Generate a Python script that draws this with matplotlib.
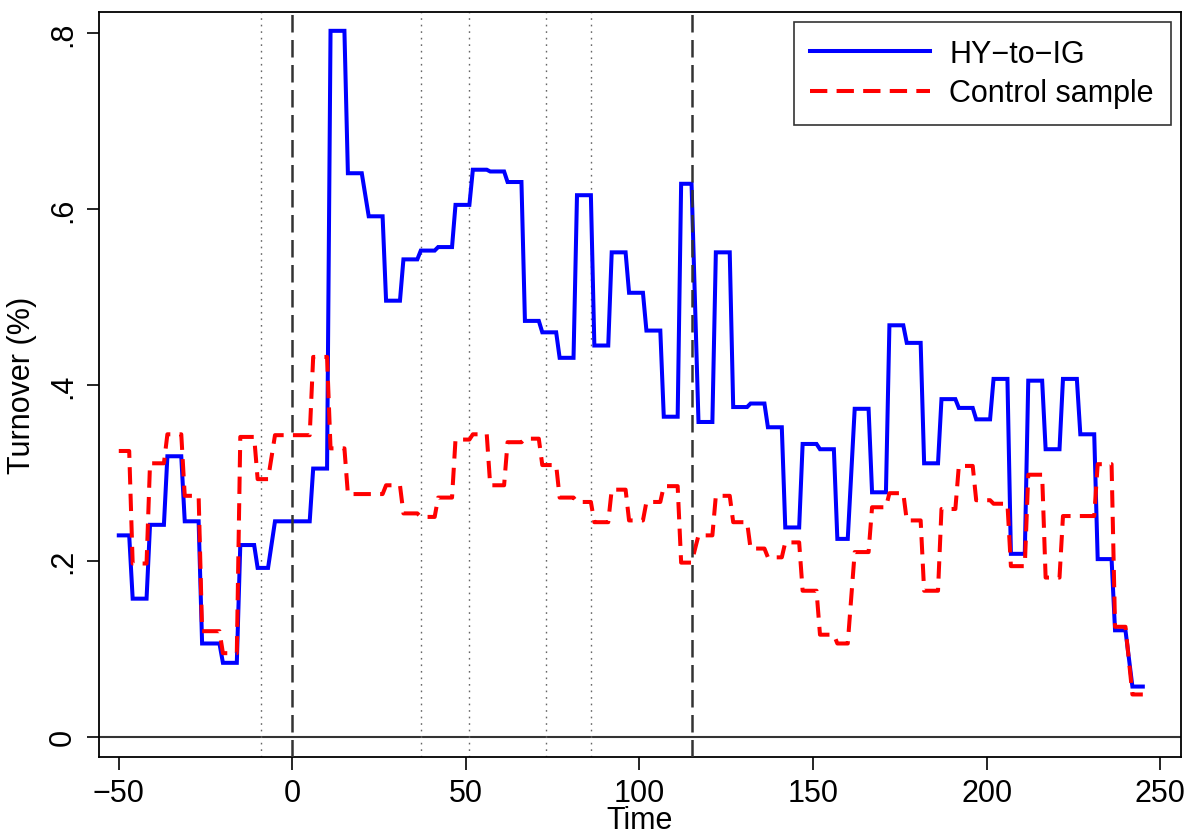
import matplotlib
matplotlib.use("Agg")
import matplotlib.pyplot as plt

# HY-to-IG: flat segments (first day, last day, turnover %)
hy_start = [-50, -46, -41, -36, -31, -26, -20, -15, -10, -5, 6, 11, 16, 22, 27, 32, 37, 42, 47, 52,
            57, 62, 67, 72, 77, 82, 87, 92, 97, 102, 107, 112, 117, 122, 127, 132, 137, 142, 147, 152,
            157, 162, 167, 172, 177, 182, 187, 192, 197, 202, 207, 212, 217, 222, 227, 232, 237, 242]
hy_end = [-47, -42, -37, -32, -27, -21, -16, -11, -7, 5, 10, 15, 20, 26, 31, 36, 41, 46, 51, 56,
          61, 66, 71, 76, 81, 86, 91, 96, 101, 106, 111, 115, 121, 126, 131, 136, 141, 146, 151, 156,
          160, 166, 171, 176, 181, 186, 191, 196, 201, 206, 211, 216, 221, 226, 231, 236, 240, 245]
hy_level = [0.229, 0.157, 0.241, 0.319, 0.245, 0.106, 0.084, 0.218, 0.192, 0.245, 0.305, 0.803,
            0.641, 0.592, 0.496, 0.543, 0.553, 0.557, 0.605, 0.645, 0.643, 0.631, 0.473, 0.460,
            0.431, 0.616, 0.445, 0.551, 0.505, 0.462, 0.364, 0.629, 0.358, 0.551, 0.375, 0.379,
            0.352, 0.238, 0.333, 0.327, 0.225, 0.373, 0.278, 0.468, 0.448, 0.311, 0.384, 0.374,
            0.361, 0.407, 0.208, 0.405, 0.327, 0.407, 0.344, 0.202, 0.121, 0.057]

# Control sample
ct_start = [-50, -46, -41, -36, -31, -26, -20, -15, -10, -5, 6, 11, 16, 27, 32, 37, 42, 47, 52, 57,
            62, 67, 72, 77, 82, 87, 92, 97, 102, 107, 112, 117, 122, 127, 132, 137, 142, 147, 152,
            157, 162, 167, 172, 177, 182, 187, 192, 197, 202, 207, 212, 217, 222, 232, 237, 242]
ct_end = [-47, -42, -37, -32, -27, -21, -16, -11, -7, 5, 10, 15, 26, 31, 36, 41, 46, 51, 56, 61,
          66, 71, 76, 81, 86, 91, 96, 101, 106, 111, 115, 121, 126, 131, 136, 141, 146, 151, 156,
          160, 166, 171, 176, 181, 186, 191, 196, 201, 206, 211, 216, 221, 231, 236, 240, 245]
ct_level = [0.325, 0.197, 0.311, 0.344, 0.274, 0.120, 0.095, 0.341, 0.293, 0.343, 0.432, 0.328,
            0.276, 0.286, 0.254, 0.250, 0.272, 0.338, 0.344, 0.286, 0.335, 0.339, 0.309, 0.272,
            0.267, 0.244, 0.281, 0.246, 0.267, 0.285, 0.198, 0.229, 0.274, 0.244, 0.214, 0.204,
            0.221, 0.166, 0.116, 0.106, 0.210, 0.261, 0.277, 0.246, 0.166, 0.259, 0.308, 0.269,
            0.265, 0.194, 0.298, 0.181, 0.251, 0.310, 0.125, 0.048]

event_days = [0, 115]
marker_days = [-9, 37, 51, 73, 86]


def vertices(starts, ends, levels):
    xs, ys = [], []
    for s, e, v in zip(starts, ends, levels):
        xs += [s, e]
        ys += [v, v]
    return xs, ys


plt.rcParams['font.family'] = ['Liberation Sans', 'DejaVu Sans']
fig = plt.figure(figsize=(11.9, 8.37), dpi=100)
ax = fig.add_axes([99 / 1190, 1 - 757.7 / 837, (1181 - 99) / 1190, (757.7 - 12.5) / 837])

ax.axhline(0, color='#333333', lw=1.5, zorder=1)
for d in marker_days:
    ax.axvline(d, color='#666666', lw=1.0, ls=(0, (1.2, 3.5)), zorder=1)

hx, hy = vertices(hy_start, hy_end, hy_level)
cx, cy = vertices(ct_start, ct_end, ct_level)
ax.plot(hx, hy, color='#0000ff', lw=2.9, label='HY\u2212to\u2212IG', zorder=2,
        solid_joinstyle='miter')
ax.plot(cx, cy, color='#ff0000', lw=2.9, ls=(0, (4.3, 2.3)), label='Control sample', zorder=3)
for d in event_days:
    ax.axvline(d, color='#333333', lw=1.8, ls=(0, (7, 3)), zorder=4)

ax.set_xlim(-55.7, 256)
ax.set_ylim(-0.0228, 0.825)
ax.set_xticks([-50, 0, 50, 100, 150, 200, 250])
ax.set_xticklabels(['\u221250', '0', '50', '100', '150', '200', '250'])
ax.set_yticks([0, 0.2, 0.4, 0.6, 0.8])
ax.set_yticklabels(['0', '.2', '.4', '.6', '.8'], rotation=90, va='center')
ax.tick_params(axis='both', labelsize=22, length=9, width=1.2, direction='out', pad=6)
for sp in ax.spines.values():
    sp.set_linewidth(1.3)

ax.set_xlabel('Time', fontsize=22, labelpad=-2)
ax.set_ylabel('Turnover (%)', fontsize=22, labelpad=8)

leg = ax.legend(loc='upper right', bbox_to_anchor=(1170.7 / 1190, 1 - 22.7 / 837),
                bbox_transform=fig.transFigure, borderaxespad=0, fontsize=22,
                fancybox=False, frameon=True, handlelength=3.9, handletextpad=0.65,
                labelspacing=0.32, borderpad=0.55)
leg.get_frame().set_edgecolor('black')
leg.get_frame().set_linewidth(1.2)

fig.savefig('out.png', dpi=100)
